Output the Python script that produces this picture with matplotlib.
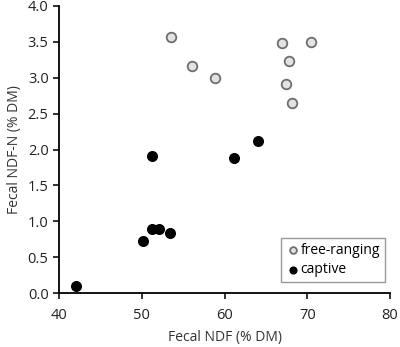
import matplotlib.pyplot as plt

# free-ranging animals
free_ndf = [53.5, 56.1, 58.8, 67.0, 70.5, 67.8, 67.4, 68.2]
free_ndfn = [3.57, 3.16, 3.00, 3.49, 3.50, 3.23, 2.91, 2.65]

# captive animals
cap_ndf = [42.1, 50.2, 51.2, 52.1, 53.4, 51.2, 61.1, 64.1]
cap_ndfn = [0.10, 0.72, 0.90, 0.89, 0.84, 1.91, 1.88, 2.12]

plt.rcParams['font.family'] = ['Open Sans', 'DejaVu Sans']

fig = plt.figure(figsize=(4.0, 3.47), dpi=100)
ax = fig.add_axes([0.1475, 0.155, 0.8275, 0.828])

ax.scatter(free_ndf, free_ndfn, s=48, facecolor='#e2e2e2', edgecolor='#6e6e6e',
           linewidth=1.3, label='free-ranging', zorder=3)
ax.scatter(cap_ndf, cap_ndfn, s=48, facecolor='black', edgecolor='black',
           linewidth=1.0, label='captive', zorder=3)

ax.set_xlim(40, 80)
ax.set_ylim(0, 4.0)
ax.set_xticks([40, 50, 60, 70, 80])
ax.set_yticks([0, 0.5, 1.0, 1.5, 2.0, 2.5, 3.0, 3.5, 4.0])
ax.set_yticklabels(['%.1f' % v for v in ax.get_yticks()])

for s in ['top', 'right']:
    ax.spines[s].set_visible(False)
for s in ['left', 'bottom']:
    ax.spines[s].set_linewidth(1.3)
ax.tick_params(direction='out', length=4, width=1.3, labelsize=10.5, colors='#222222')
ax.tick_params(axis='x', pad=7)

ax.set_xlabel('Fecal NDF (% DM)', fontsize=10, color='#333333', labelpad=5)
ax.set_ylabel('Fecal NDF-N (% DM)', fontsize=10, color='#333333', labelpad=4)

leg = ax.legend(loc='lower right', bbox_to_anchor=(0.985, 0.038), fontsize=10,
                fancybox=False, framealpha=1, edgecolor='#999999',
                handletextpad=0.05, handlelength=1.0, borderpad=0.35,
                labelspacing=0.35, markerscale=0.7, borderaxespad=0)
leg.get_frame().set_linewidth(1.0)

fig.savefig('out.png', dpi=100)
